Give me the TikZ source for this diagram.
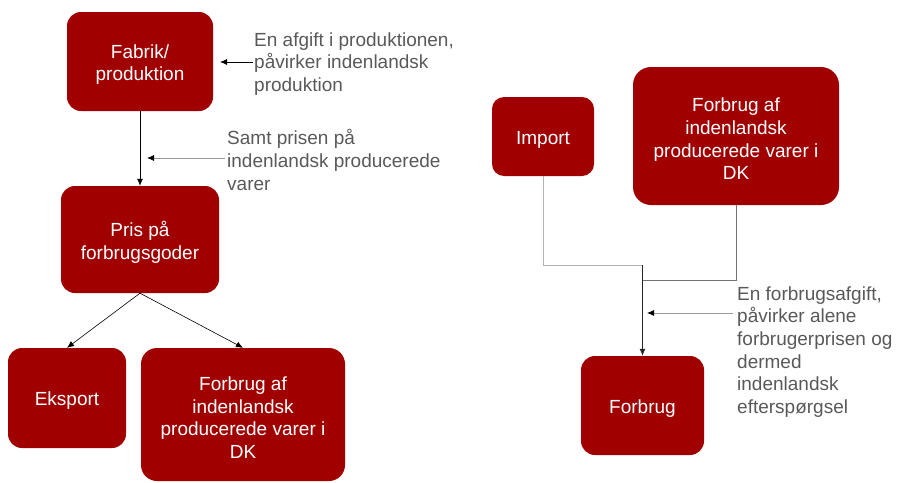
\documentclass[tikz,border=0pt]{standalone}
\usepackage{fontspec}
\setmainfont{Liberation Sans}
\usetikzlibrary{arrows.meta}
\definecolor{boxred}{RGB}{160,0,0}
\definecolor{notegray}{RGB}{89,89,89}
\begin{document}
\begin{tikzpicture}[x=1pt,y=-1pt,
  box/.style={fill=boxred,rounded corners=14pt,inner sep=0pt},
  boxtext/.style={text=white,align=center,inner sep=0pt,yshift=-3pt,
    font=\fontsize{19}{22.7}\selectfont},
  note/.style={text=notegray,align=left,inner sep=0pt,anchor=west,
    font=\fontsize{19}{22.7}\selectfont},
  conn/.style={line width=0.8pt,-{Latex[length=7pt,width=6pt]}},
  noteline/.style={line width=0.8pt,draw=gray!80,-{Latex[length=7pt,width=6pt,black]}}
]
\useasboundingbox (0,0) rectangle (897,482);
% boxes
\node[box,minimum width=146pt,minimum height=99pt,
  label={[boxtext]center:Fabrik/\\produktion}] (fab) at (140,61.5) {};
\node[box,minimum width=158pt,minimum height=107pt,
  label={[boxtext]center:Pris på\\forbrugsgoder}] (pris) at (140,239.5) {};
\node[box,minimum width=118pt,minimum height=100pt,
  label={[boxtext]center:Eksport}] (eks) at (67,398) {};
\node[box,minimum width=204pt,minimum height=133pt,rounded corners=16pt,
  label={[boxtext]center:Forbrug af\\indenlandsk\\producerede varer i\\DK}] (fal) at (243,414.5) {};
\node[box,minimum width=102pt,minimum height=79pt,rounded corners=12pt,
  label={[boxtext]center:Import}] (imp) at (543,136.5) {};
\node[box,minimum width=206pt,minimum height=138pt,rounded corners=18pt,
  label={[boxtext]center:Forbrug af\\indenlandsk\\producerede varer i\\DK}] (far) at (736,136) {};
\node[box,minimum width=123pt,minimum height=99pt,
  label={[boxtext]center:Forbrug}] (forb) at (642.5,405.5) {};
% notes
\node[note] (t1) at (254,64) {En afgift i produktionen,\\påvirker indenlandsk\\produktion};
\node[note] (t2) at (227,160) {Samt prisen på\\indenlandsk producerede\\varer};
\node[note] (t3) at (737,352) {En forbrugsafgift,\\påvirker alene\\forbrugerprisen og\\dermed\\indenlandsk\\efterspørgsel};
% coordinates
\coordinate (s1) at (253,62);
\coordinate (a1) at (220,62);
\coordinate (s2) at (225,158);
\coordinate (a2) at (147,158);
\coordinate (s3) at (733,313);
\coordinate (a3) at (647,313);
\coordinate (j1) at (642.5,265);
\coordinate (j2) at (642.5,280);
% connectors left
\draw[conn] (fab.south) -- (pris.north);
\draw[conn,line width=0.6pt] (pris.south) -- (eks.north);
\draw[conn,line width=0.6pt] (pris.south) -- (fal.north);
\draw[line width=0.8pt,-{Latex[length=7pt,width=6pt]}] (s1) -- (a1);
\draw[noteline] (s2) -- (a2);
% connectors right
\draw[line width=0.8pt,draw=gray!60] (imp.south) |- (j1);
\draw[line width=0.8pt,draw=gray!90!black] (far.south) |- (j2);
\draw[conn,draw=black!85] (j1) -- (forb.north);
\draw[noteline] (s3) -- (a3);
\end{tikzpicture}
\end{document}
